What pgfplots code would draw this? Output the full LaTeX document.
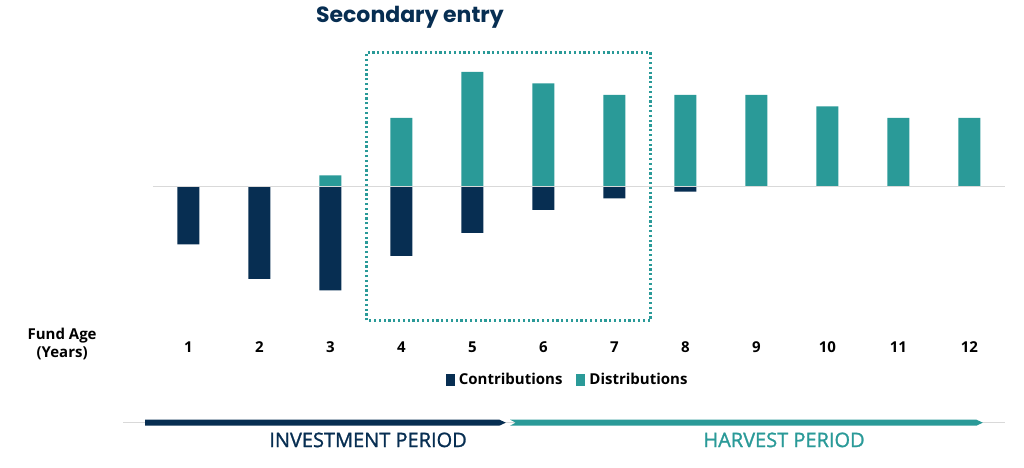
\documentclass[border=0pt]{standalone}
\usepackage{fontspec}
\setmainfont{Open Sans}
\newfontfamily\titlefont{Poppins}
\newfontfamily\bandfont[FakeBold=1.2]{Open Sans}
\usepackage{pgfplots}
\pgfplotsset{compat=1.18}

\definecolor{navyc}{HTML}{072E52}
\definecolor{tealc}{HTML}{2A9A98}
\definecolor{zeroc}{HTML}{D9D9D9}

\begin{document}
\begin{tikzpicture}
\begin{axis}[
    x=35.5pt, y=0.575pt,
    xmin=0.5, xmax=12.5,
    ymin=-125, ymax=140,
    axis line style={draw=none},
    major tick length=0pt,
    ytick=\empty,
    xtick={1,...,12},
    /pgf/number format/assume math mode=true,
    xticklabel style={font=\bfseries\fontsize{7.5}{9}\selectfont, text=black, yshift=-2pt},
    ybar, bar width=11pt,
    clip=false,
    legend style={at={(0.488,-0.162)}, anchor=center, draw=none, fill=none,
        legend columns=2, font=\bfseries\fontsize{7.5}{9}\selectfont,
        /tikz/every even column/.append style={column sep=5pt},
        /tikz/every odd column/.append style={column sep=0pt}},
    legend image code/.code={\fill[#1] (0pt,-3.2pt) rectangle (4.5pt,3.2pt);},
]
\addplot[fill=navyc, draw=none, bar shift=0pt] coordinates {
    (1,-50) (2,-80) (3,-90) (4,-60) (5,-40) (6,-20) (7,-10) (8,-4)
};
\addlegendentry{Contributions}
\addplot[fill=tealc, draw=none, bar shift=0pt] coordinates {
    (3,10) (4,60) (5,100) (6,90) (7,80) (8,80) (9,80) (10,70) (11,60) (12,60)
};
\addlegendentry{Distributions}

% zero line
\draw[zeroc, line width=0.5pt] (axis cs:0.5,0) -- (axis cs:12.5,0);

% secondary entry window
\draw[tealc, line width=1.2pt, dash pattern=on 1.1pt off 1.3pt]
    (axis cs:3.51,-116) rectangle (axis cs:7.51,117);
\node[font=\titlefont\bfseries\fontsize{11}{13}\selectfont, text=navyc]
    at (axis cs:4.12,148) {Secondary entry};

\node[align=center, font=\bfseries\fontsize{7.5}{9}\selectfont]
    at (axis cs:-0.78,-137) {Fund Age\\(Years)};

% period band
\draw[zeroc, line width=0.6pt] (axis cs:0.08,-205) -- (axis cs:12.5,-205);
\fill[navyc] (axis cs:0.39,-202.4) -- (axis cs:5.38,-202.4) -- (axis cs:5.47,-205)
    -- (axis cs:5.38,-207.6) -- (axis cs:0.39,-207.6) -- cycle;
\fill[tealc] (axis cs:5.53,-202.4) -- (axis cs:12.1,-202.4) -- (axis cs:12.19,-205)
    -- (axis cs:12.1,-207.6) -- (axis cs:5.53,-207.6) -- (axis cs:5.61,-205) -- cycle;
\node[font=\bandfont\fontsize{10}{12}\selectfont, text=navyc] at (axis cs:3.53,-220) {INVESTMENT PERIOD};
\node[font=\bandfont\fontsize{10}{12}\selectfont, text=tealc] at (axis cs:9.39,-220) {HARVEST PERIOD};

\coordinate (bl) at (axis cs:-1.655,-244.3);
\coordinate (tr) at (axis cs:12.77,162.6);
\end{axis}
\pgfresetboundingbox
\path (bl) rectangle (tr);
\end{tikzpicture}
\end{document}
